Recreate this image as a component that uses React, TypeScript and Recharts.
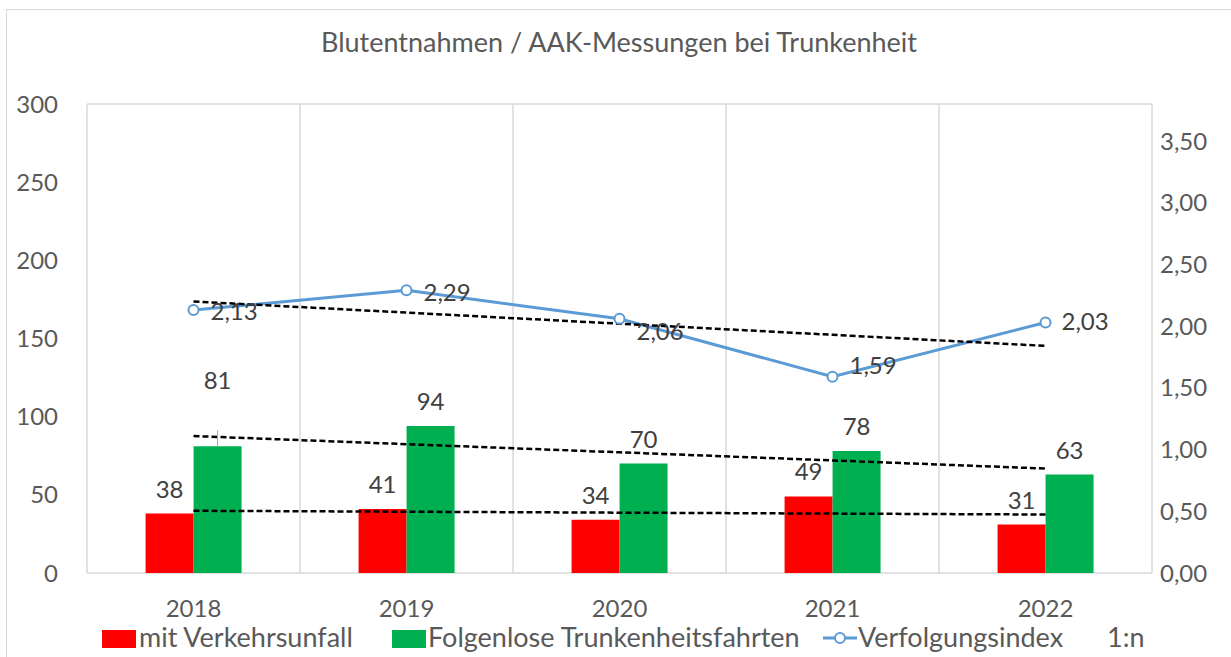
import { ComposedChart, Bar, Line, XAxis, YAxis, CartesianGrid, LabelList } from "recharts";

const jahre = ["2018", "2019", "2020", "2021", "2022"];
const mitVerkehrsunfall = [38, 41, 34, 49, 31];
const folgenlose = [81, 94, 70, 78, 63];
const verfolgungsindex = [2.13, 2.29, 2.06, 1.59, 2.03];
const linksTicks = [0, 50, 100, 150, 200, 250, 300];
const rechtsTicks = [0, 0.5, 1, 1.5, 2, 2.5, 3, 3.5];

const FONT = "Lato, 'Open Sans', sans-serif";
const GRAU = "#595959";
const LABEL = "#404040";

// lineare Trendlinie (wie Excel) aus den Werten
function trend(werte: number[]) {
  const n = werte.length;
  const mx = (n - 1) / 2;
  const my = werte.reduce((s, v) => s + v, 0) / n;
  let sxy = 0;
  let sxx = 0;
  werte.forEach((v, i) => {
    sxy += (i - mx) * (v - my);
    sxx += (i - mx) * (i - mx);
  });
  const m = sxy / sxx;
  return werte.map((_, i) => my + m * (i - mx));
}

const trendRot = trend(mitVerkehrsunfall);
const trendGruen = trend(folgenlose);
const trendIndex = trend(verfolgungsindex);

const daten = jahre.map((j, i) => ({
  jahr: j,
  rot: mitVerkehrsunfall[i],
  gruen: folgenlose[i],
  index: verfolgungsindex[i],
  tRot: trendRot[i],
  tGruen: trendGruen[i],
  tIndex: trendIndex[i],
}));

const komma = (v: number) => v.toFixed(2).replace(".", ",");

// Verschiebung der Datenbeschriftungen (wie im Original verschoben)
const gruenExtra = [41, 0, 0, 0, 0];
const indexVersatz = [
  [17, 2],
  [17, 3],
  [17, 13],
  [17, -11],
  [16, 0],
];

function BalkenLabel(props: any, extra?: number[]) {
  const { x, y, width, value, index } = props;
  const cx = Number(x) + Number(width) / 2;
  const e = extra ? extra[index] : 0;
  return (
    <g>
      {e > 0 && <line x1={cx} x2={cx} y1={y} y2={y - 16} stroke="#a6a6a6" strokeWidth={1} />}
      <text x={cx} y={Number(y) - 16 - e} textAnchor="middle" fontSize={24} fill={LABEL} fontFamily={FONT}>
        {value}
      </text>
    </g>
  );
}

function IndexLabel(props: any) {
  const { x, y, value, index } = props;
  const [dx, dy] = indexVersatz[index];
  return (
    <text x={Number(x) + dx} y={Number(y) + dy + 8} textAnchor="start" fontSize={24} fill={LABEL} fontFamily={FONT}>
      {komma(Number(value))}
    </text>
  );
}

function Legende() {
  const txt = { position: "absolute" as const, top: 624, fontSize: 27, color: GRAU, fontFamily: FONT, lineHeight: "26px", whiteSpace: "nowrap" as const };
  return (
    <>
      <div style={{ position: "absolute", left: 102, top: 630, width: 34, height: 18, background: "#ff0000" }} />
      <div style={{ ...txt, left: 139 }}>mit Verkehrsunfall</div>
      <div style={{ position: "absolute", left: 392, top: 630, width: 34, height: 18, background: "#00b050" }} />
      <div style={{ ...txt, left: 428 }}>Folgenlose Trunkenheitsfahrten</div>
      <svg style={{ position: "absolute", left: 822, top: 627 }} width={36} height={22}>
        <line x1={1} x2={35} y1={11} y2={11} stroke="#5b9bd5" strokeWidth={3} />
        <circle cx={18} cy={11} r={5} fill="#fff" stroke="#5b9bd5" strokeWidth={2} />
      </svg>
      <div style={{ ...txt, left: 858 }}>Verfolgungsindex</div>
      <div style={{ ...txt, left: 1107 }}>1:n</div>
    </>
  );
}

export default function App() {
  return (
    <div style={{ position: "absolute", left: 0, top: 0, width: 1231, height: 657, background: "#fff", overflow: "hidden" }}>
      <div style={{ position: "absolute", left: 6, top: 9, width: 1300, height: 700, border: "1px solid #d9d9d9" }} />
      <div
        style={{
          position: "absolute",
          top: 25,
          left: 0,
          width: 1238,
          textAlign: "center",
          fontSize: 27,
          color: GRAU,
          fontFamily: FONT,
          whiteSpace: "nowrap",
        }}
      >
        Blutentnahmen / AAK-Messungen bei Trunkenheit
      </div>
      <div style={{ position: "absolute", left: 0, top: 0 }}>
        <ComposedChart
          width={1231}
          height={657}
          data={daten}
          margin={{ top: 104, right: 0, left: 0, bottom: 0 }}
          barCategoryGap="27.5%"
          barGap={0}
        >
          <CartesianGrid
            stroke="#d9d9d9"
            strokeWidth={1.5}
            verticalCoordinatesGenerator={({ offset }: any) =>
              jahre.map((_, i) => offset.left + (offset.width * i) / jahre.length).concat(offset.left + offset.width)
            }
          />
          <XAxis
            dataKey="jahr"
            height={84}
            axisLine={false}
            tickLine={false}
            tickSize={0}
            tickMargin={27}
            tick={{ fontSize: 24, fill: GRAU, fontFamily: FONT }}
          />
          <YAxis
            yAxisId="links"
            width={87}
            domain={[0, 300]}
            ticks={linksTicks}
            axisLine={false}
            tickLine={false}
            tickSize={0}
            tickMargin={29}
            tick={{ fontSize: 24, fill: GRAU, fontFamily: FONT }}
          />
          <YAxis
            yAxisId="rechts"
            orientation="right"
            width={79}
            domain={[0, 3.8]}
            ticks={rechtsTicks}
            tickFormatter={komma}
            axisLine={false}
            tickLine={false}
            tickSize={0}
            tickMargin={8}
            tick={{ fontSize: 24, fill: GRAU, fontFamily: FONT }}
          />
          <Bar yAxisId="links" dataKey="rot" fill="#ff0000" isAnimationActive={false}>
            <LabelList dataKey="rot" content={(p: any) => BalkenLabel(p)} />
          </Bar>
          <Bar yAxisId="links" dataKey="gruen" fill="#00b050" isAnimationActive={false}>
            <LabelList dataKey="gruen" content={(p: any) => BalkenLabel(p, gruenExtra)} />
          </Bar>
          <Line
            yAxisId="rechts"
            dataKey="index"
            stroke="#5b9bd5"
            strokeWidth={3}
            dot={{ r: 5, fill: "#fff", stroke: "#5b9bd5", strokeWidth: 2 }}
            activeDot={false}
            isAnimationActive={false}
          >
            <LabelList dataKey="index" content={IndexLabel} />
          </Line>
          <Line yAxisId="links" dataKey="tRot" stroke="#000" strokeWidth={2.5} strokeDasharray="6 3" dot={false} activeDot={false} legendType="none" isAnimationActive={false} />
          <Line yAxisId="links" dataKey="tGruen" stroke="#000" strokeWidth={2.5} strokeDasharray="6 3" dot={false} activeDot={false} legendType="none" isAnimationActive={false} />
          <Line yAxisId="rechts" dataKey="tIndex" stroke="#000" strokeWidth={2.5} strokeDasharray="6 3" dot={false} activeDot={false} legendType="none" isAnimationActive={false} />
        </ComposedChart>
      </div>
      <Legende />
    </div>
  );
}
